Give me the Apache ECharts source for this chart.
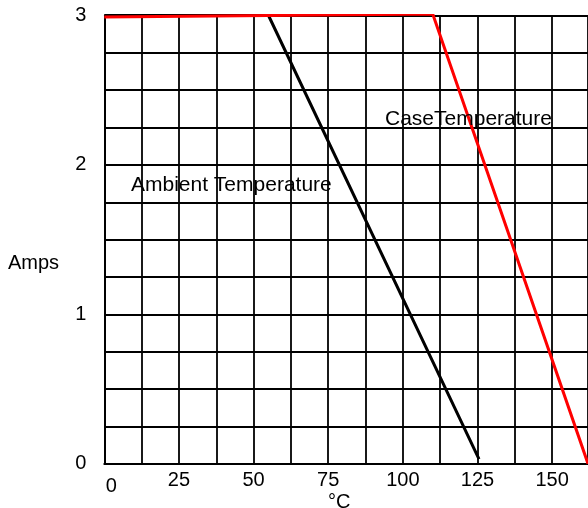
<!DOCTYPE html>
<html><head><meta charset="utf-8">
<script src="https://cdn.jsdelivr.net/npm/echarts@6/dist/echarts.min.js"></script>
<style>html,body{margin:0;padding:0;background:#fff}#c{width:588px;height:508px}</style>
</head><body><div id="c"></div>
<script>
const ambientX = [0, 55, 125.5];
const ambientY = [3.0, 3.0, 0.03];
const caseX = [0, 110, 162];
const caseY = [2.99, 3.01, 0];
const xTickLabels = [0, 25, 50, 75, 100, 125, 150];
const yTickLabels = [0, 1, 2, 3];
const xTitle = '°C';
const yTitle = 'Amps';
const ambientName = 'Ambient Temperature';
const caseName = 'CaseTemperature';

const FONT = '"Liberation Sans", Arial, sans-serif';
const chart = echarts.init(document.getElementById('c'));
chart.setOption({
  animation: false,
  grid: { left: 104.3, top: 15.5, right: 0, bottom: 44.3, containLabel: false },
  xAxis: {
    type: 'value', min: 0, max: 162, interval: 12.5,
    axisLine: { show: true, lineStyle: { color: '#000', width: 2 } },
    axisTick: { show: false },
    splitLine: { show: true, lineStyle: { color: '#000', width: 1.8 } },
    axisLabel: {
      margin: 7, color: '#000', fontSize: 20, fontFamily: FONT, showMaxLabel: false,
      formatter: v => xTickLabels.includes(v) ? (v === 0 ? '{z|0}' : String(v)) : '',
      rich: { z: { fontSize: 20, fontFamily: FONT, color: '#000', padding: [6, 0, 0, 14] } }
    }
  },
  yAxis: {
    type: 'value', min: 0, max: 3, interval: 0.25,
    axisLine: { show: true, lineStyle: { color: '#000', width: 2 } },
    axisTick: { show: false },
    splitLine: { show: true, lineStyle: { color: '#000', width: 1.8 } },
    axisLabel: {
      margin: 18, color: '#000', fontSize: 20, fontFamily: FONT,
      formatter: v => yTickLabels.includes(v) ? String(v) : ''
    }
  },
  graphic: [
    { type: 'text', left: 8, top: 253, style: { text: yTitle, fontSize: 20, fontFamily: FONT, fill: '#000' } },
    { type: 'text', left: 328, top: 492, style: { text: xTitle, fontSize: 20, fontFamily: FONT, fill: '#000' } },
    { type: 'text', left: 131, top: 175, z: 10, style: { text: ambientName, fontSize: 21, fontFamily: FONT, fill: '#000' } },
    { type: 'text', left: 385, top: 109, z: 10, style: { text: caseName, fontSize: 21, fontFamily: FONT, fill: '#000' } }
  ],
  series: [
    { type: 'line', name: ambientName, data: ambientX.map((x, i) => [x, ambientY[i]]),
      showSymbol: false, lineStyle: { color: '#000', width: 3 }, z: 3 },
    { type: 'line', name: caseName, data: caseX.map((x, i) => [x, caseY[i]]),
      showSymbol: false, lineStyle: { color: '#ff0000', width: 3 }, z: 4 }
  ]
});
</script></body></html>
